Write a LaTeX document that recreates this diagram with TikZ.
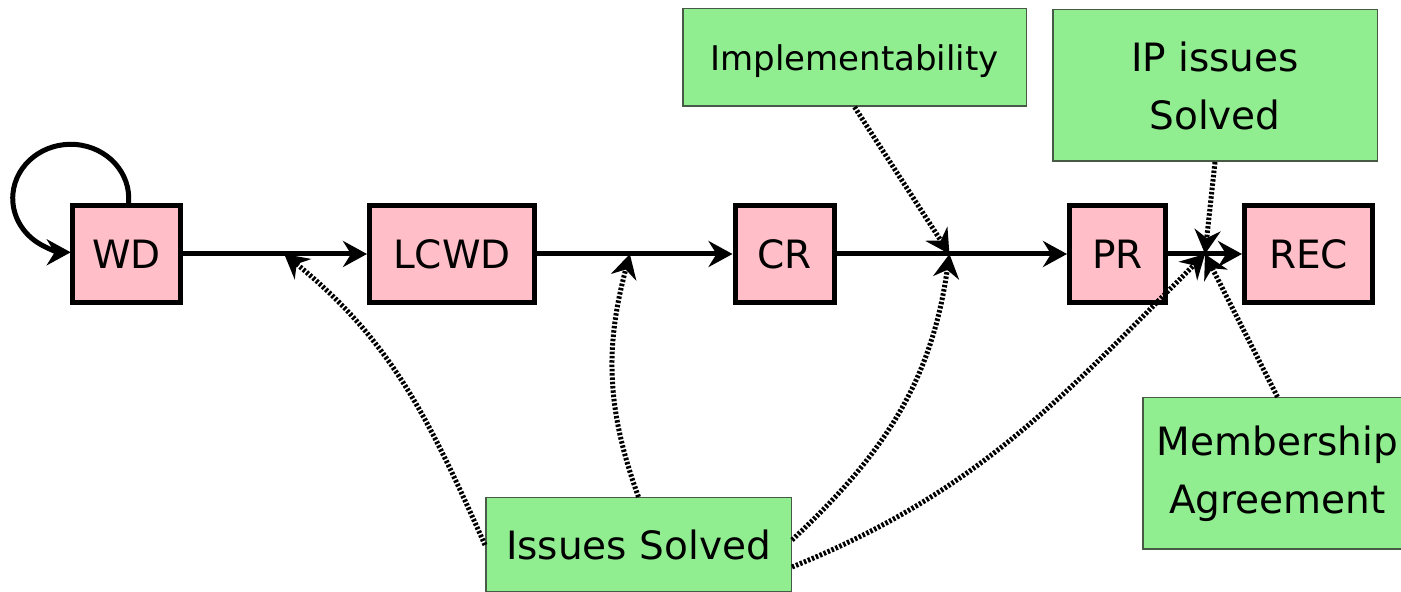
\documentclass[tikz,border=0pt]{standalone}
\usepackage{fontspec}
\setmainfont{DejaVu Sans}
\usetikzlibrary{arrows.meta,calc}
\definecolor{boxpink}{RGB}{255,190,200}
\definecolor{boxgreen}{RGB}{144,238,144}
\definecolor{boxedge}{RGB}{70,90,70}
\begin{document}
\begin{tikzpicture}[x=1pt,y=1pt,
  stage/.style={draw=black, line width=5pt, fill=boxpink, inner sep=0pt,
    minimum height=97pt, text height=28.5pt, text depth=0pt,
    font=\fontsize{39}{47}\selectfont},
  cond/.style={draw=boxedge, line width=1.5pt, fill=boxgreen, inner sep=0pt,
    align=center, font=\fontsize{39}{58}\selectfont},
  tipstyle/.style={-{Stealth[length=24pt,width=26pt,inset=8pt]}},
  flow/.style={line width=5pt, tipstyle},
  req/.style={line width=5pt, dash pattern=on 2.5pt off 1.8pt, tipstyle}
]
\useasboundingbox (0,0) rectangle (1401,592);

% stages
\node[stage, minimum width=108pt] (WD)   at (126.5,338) {WD};
\node[stage, minimum width=165pt] (LCWD) at (452,338)   {LCWD};
\node[stage, minimum width=99pt]  (CR)   at (784.5,338) {CR};
\node[stage, minimum width=96pt]  (PR)   at (1117.5,338) {PR};
\node[stage, minimum width=128pt] (REC)  at (1308.5,338) {REC};

% conditions
\node[cond, minimum width=343.5pt, minimum height=97.5pt, text height=26pt, text depth=0pt,
      font=\fontsize{34}{40}\selectfont] (IMP) at (854.5,534.5) {Implementability};
\node[cond, minimum width=324.5pt, minimum height=151.5pt] (IP) at (1215,506.5) {IP issues\\Solved};
\node[cond, minimum width=269.5pt, minimum height=151.5pt] (MA) at (1277.5,118.5) {Membership\\Agreement};
\node[cond, minimum width=305.5pt, minimum height=94.5pt, text height=28.5pt, text depth=0pt] (IS) at (638.5,47) {Issues Solved};

% merge points on the transitions
\coordinate (m1) at ($(WD.east)!0.55!(LCWD.west)$);
\coordinate (m2) at ($(LCWD.east)!0.475!(CR.west)$);
\coordinate (m3) at ($(CR.east)!0.49!(PR.west)$);
\coordinate (m4) at ($(PR.east)!0.5!(REC.west)$);

% transitions
\draw[flow] ([xshift=2pt]WD.north) arc[start angle=-5, end angle=270, x radius=58, y radius=54];
\draw[flow] (WD.east) -- (LCWD.west);
\draw[flow] (LCWD.east) -- (CR.west);
\draw[flow] (CR.east) -- (PR.west);
\draw[flow] (PR.east) -- (REC.west);

% requirements
\draw[req] (IS.west) to[out=114, in=-39] (m1);
\draw[req] (IS.north) to[out=110, in=-105] (m2);
\draw[req] ([yshift=5pt]IS.east) to[out=43, in=-98] (m3);
\draw[req] ([yshift=-22pt]IS.east) to[out=22, in=-135] (m4);
\draw[req] (IMP.south) -- (m3);
\draw[req] (IP.south) -- (m4);
\draw[req] (MA.north) -- (m4);
\end{tikzpicture}
\end{document}
